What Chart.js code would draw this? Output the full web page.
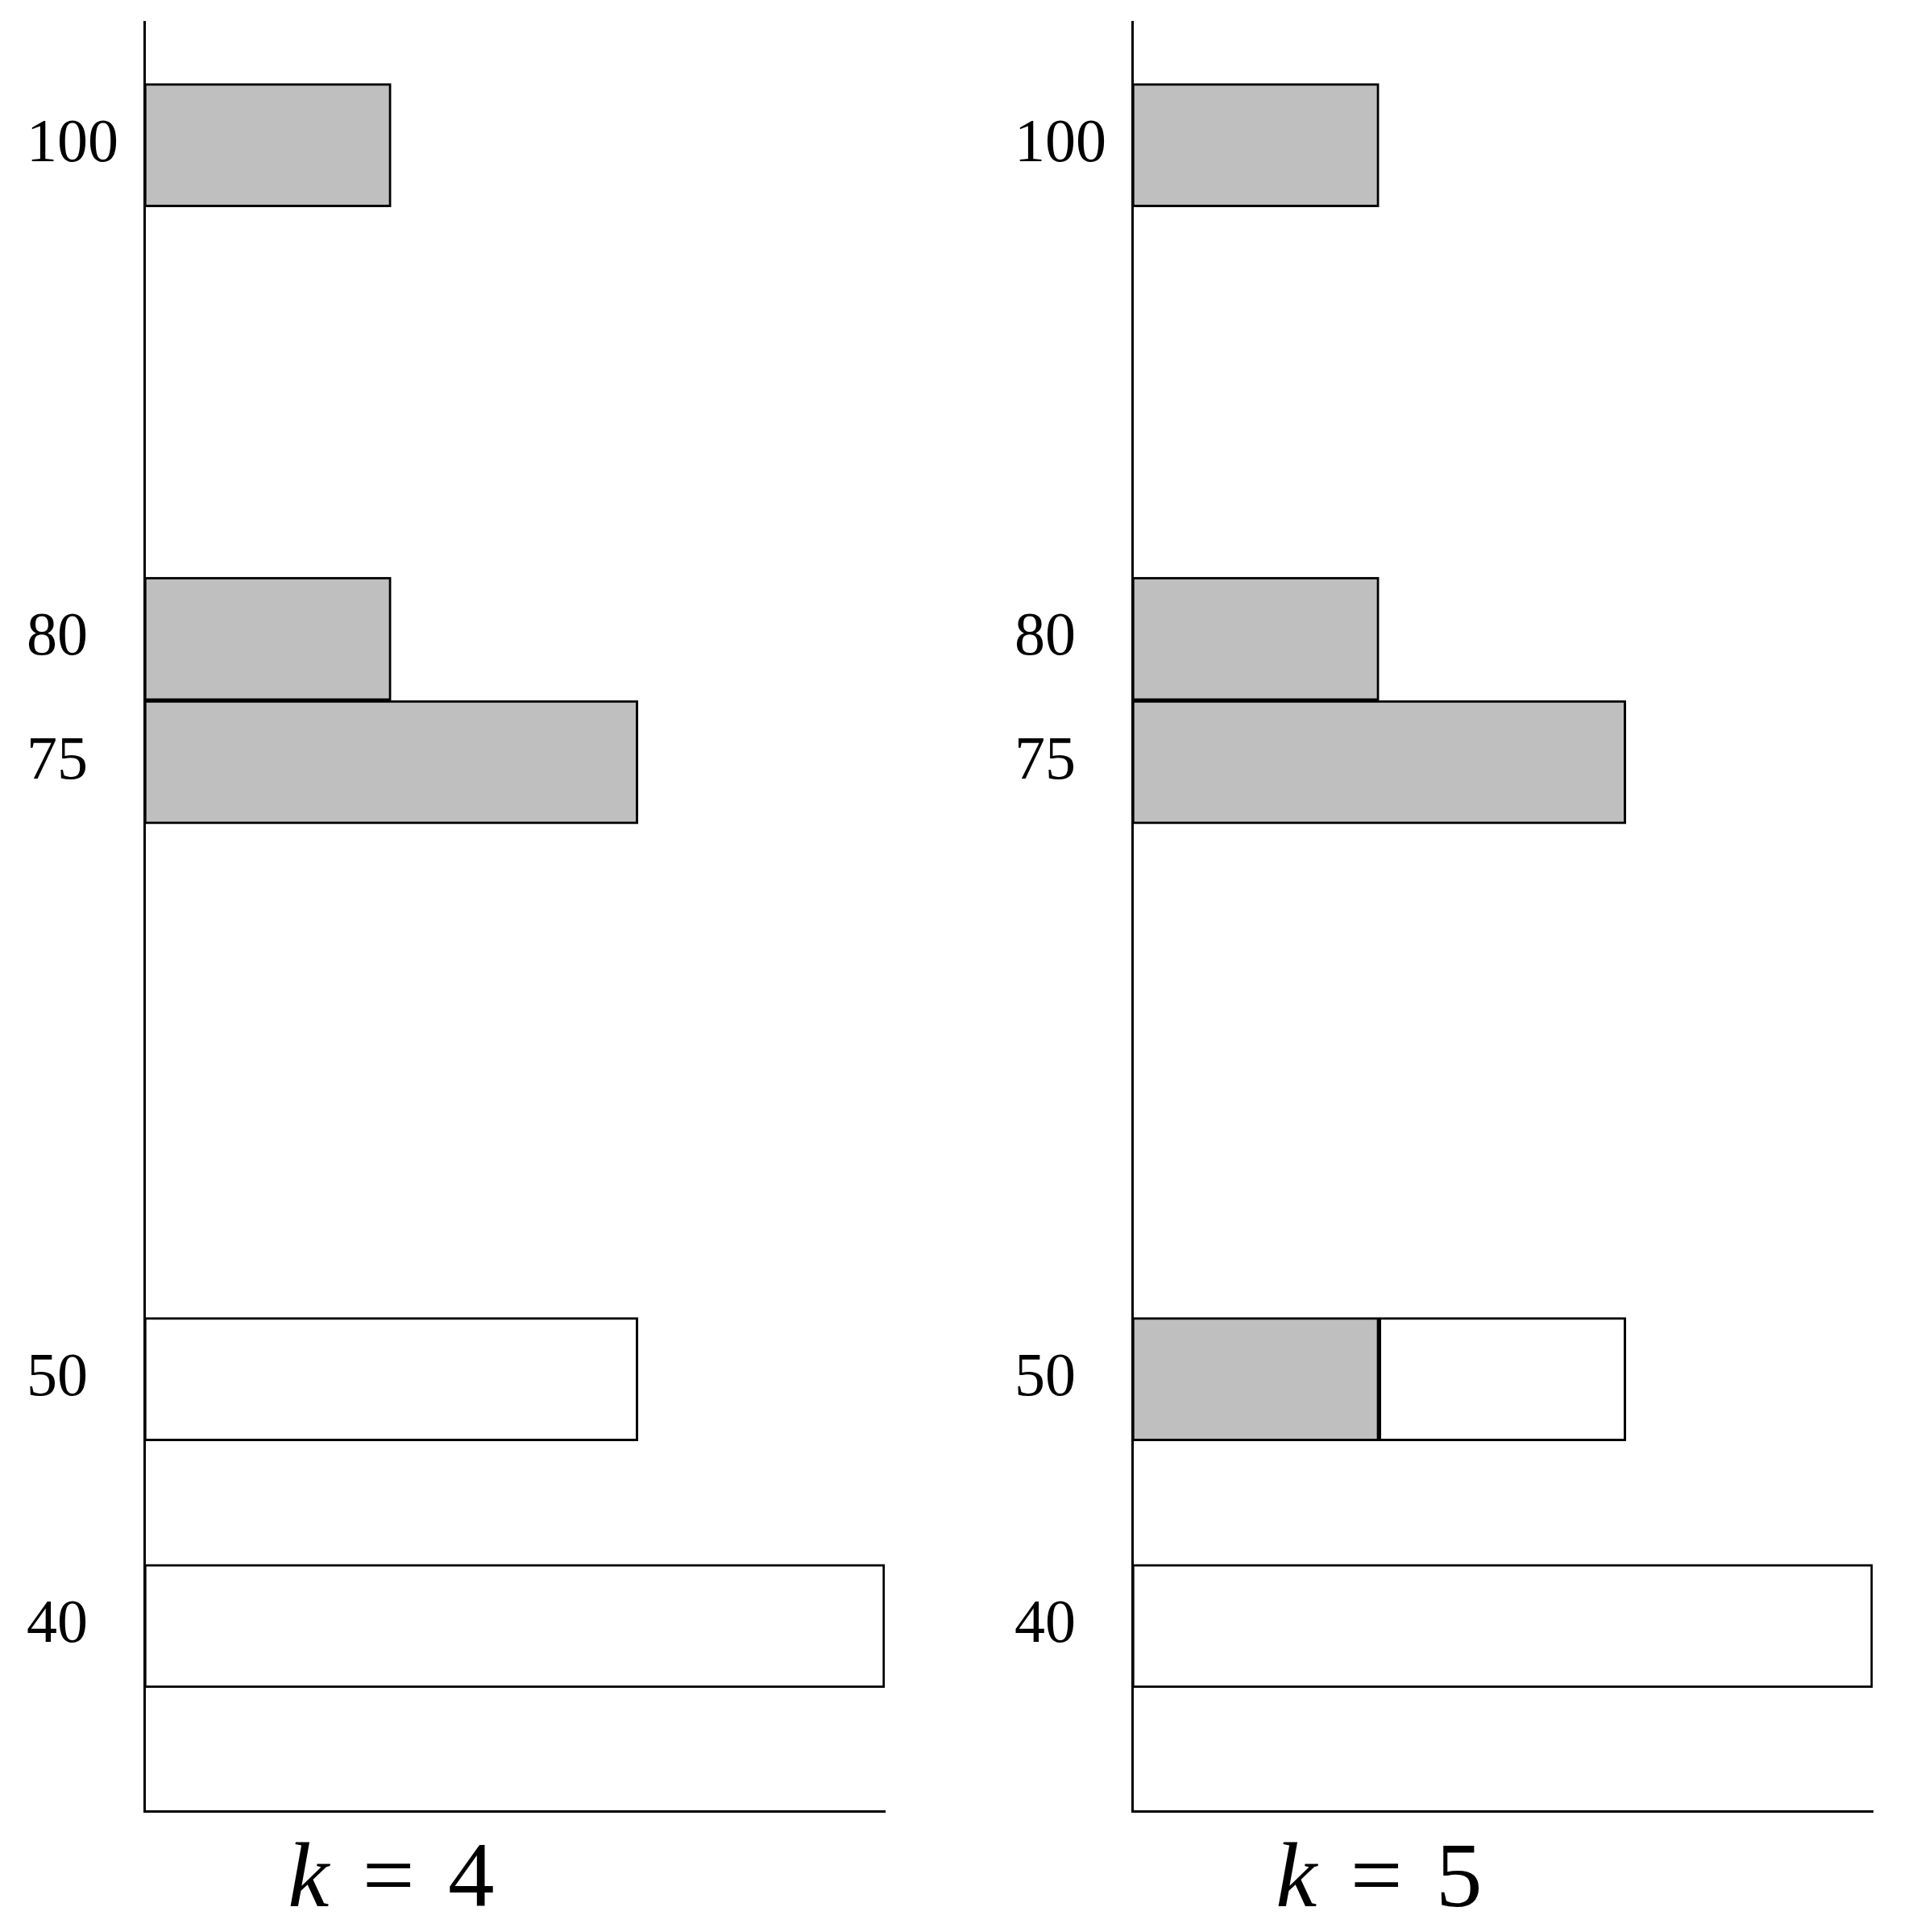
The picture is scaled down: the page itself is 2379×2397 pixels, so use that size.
<!DOCTYPE html>
<html>
<head>
<meta charset="utf-8">
<script src="https://cdn.jsdelivr.net/npm/chart.js@4.4.1/dist/chart.umd.min.js"></script>
<style>
  body { margin: 0; background: #fff; }
  .panel { position: absolute; top: 0; }
</style>
</head>
<body>
<canvas id="chartK4" class="panel" style="left:0px" width="1150" height="2397"></canvas>
<canvas id="chartK5" class="panel" style="left:1226px" width="1150" height="2397"></canvas>
<script>
// y positions of the bars (also the tick labels)
const levels = [100, 80, 75, 50, 40];
const tickValues = [100, 80, 75, 50, 40];

// panel captions: k = ...
const panelK = [4, 5];

// bar lengths, k = 4
const grayK4 = [1, 1, 2, 0, 0];
const whiteK4 = [0, 0, 0, 2, 3];

// bar lengths, k = 5
const grayK5 = [1, 1, 2, 1, 0];
const whiteK5 = [0, 0, 0, 1, 3];

const yMin = 32.5;
const yMax = 105;
const xMax = 3;

const serif = "'Liberation Serif', serif";

// build {x, y} points, skip empty pieces
function points(values) {
  const out = [];
  values.forEach((v, i) => {
    if (v > 0) out.push({ x: v, y: levels[i] });
  });
  return out;
}

// draws "k = n" under the x axis, centred on x = 1
const kLabel = {
  id: "kLabel",
  afterDraw(chart, args, opts) {
    const ctx = chart.ctx;
    const size = 115;
    const gap = 0.36 * size;
    const baseline = chart.chartArea.bottom + 118;
    ctx.save();
    ctx.fillStyle = "#000";
    ctx.textBaseline = "alphabetic";
    ctx.textAlign = "left";

    ctx.font = `italic ${size}px ${serif}`;
    const wK = ctx.measureText("k").width;
    ctx.font = `${size}px ${serif}`;
    const wEq = ctx.measureText("=").width;
    const wN = ctx.measureText(String(opts.value)).width;

    const total = wK + gap + wEq + gap + wN;
    let x = chart.scales.x.getPixelForValue(1) - total / 2;

    ctx.font = `italic ${size}px ${serif}`;
    ctx.fillText("k", x, baseline);
    x += wK + gap;
    ctx.font = `${size}px ${serif}`;
    ctx.fillText("=", x, baseline);
    x += wEq + gap;
    ctx.fillText(String(opts.value), x, baseline);
    ctx.restore();
  },
};

function makeChart(id, gray, white, k) {
  const ctx = document.getElementById(id);
  return new Chart(ctx, {
    type: "bar",
    data: {
      datasets: [
        {
          data: points(gray),
          backgroundColor: "#bfbfbf",
          borderColor: "#000",
          borderWidth: 3,
          borderSkipped: false,
        },
        {
          data: points(white),
          backgroundColor: "#fff",
          borderColor: "#000",
          borderWidth: 3,
          borderSkipped: false,
        },
      ],
    },
    plugins: [kLabel],
    options: {
      indexAxis: "y",
      responsive: false,
      animation: false,
      layout: {
        padding: { top: 27, bottom: 150, left: 33, right: 52 },
      },
      datasets: {
        bar: { barPercentage: 1, categoryPercentage: 1 },
      },
      plugins: {
        legend: { display: false },
        tooltip: { enabled: false },
        kLabel: { value: k },
      },
      scales: {
        x: {
          type: "linear",
          stacked: true,
          min: 0,
          max: xMax,
          grid: { display: false },
          border: { display: true, color: "#000", width: 3 },
          ticks: { display: false },
          afterFit: (scale) => {
            scale.height = 0;
            scale.paddingLeft = 0;
            scale.paddingRight = 0;
          },
        },
        y: {
          type: "linear",
          stacked: true,
          offset: false, // no extra room above/below the range
          min: yMin,
          max: yMax,
          grid: { display: false, offset: false },
          border: { display: true, color: "#000", width: 3 },
          afterBuildTicks: (scale) => {
            scale.ticks = tickValues.map((v) => ({ value: v }));
          },
          afterFit: (scale) => {
            scale.width = 146;
            scale.paddingTop = 0;
            scale.paddingBottom = 0;
          },
          ticks: {
            autoSkip: false,
            crossAlign: "far",
            color: "#000",
            font: { family: serif, size: 76 },
            callback: (v) => String(v),
          },
        },
      },
    },
  });
}

document.addEventListener("DOMContentLoaded", () => {
  makeChart("chartK4", grayK4, whiteK4, panelK[0]);
  makeChart("chartK5", grayK5, whiteK5, panelK[1]);
});
</script>
</body>
</html>
